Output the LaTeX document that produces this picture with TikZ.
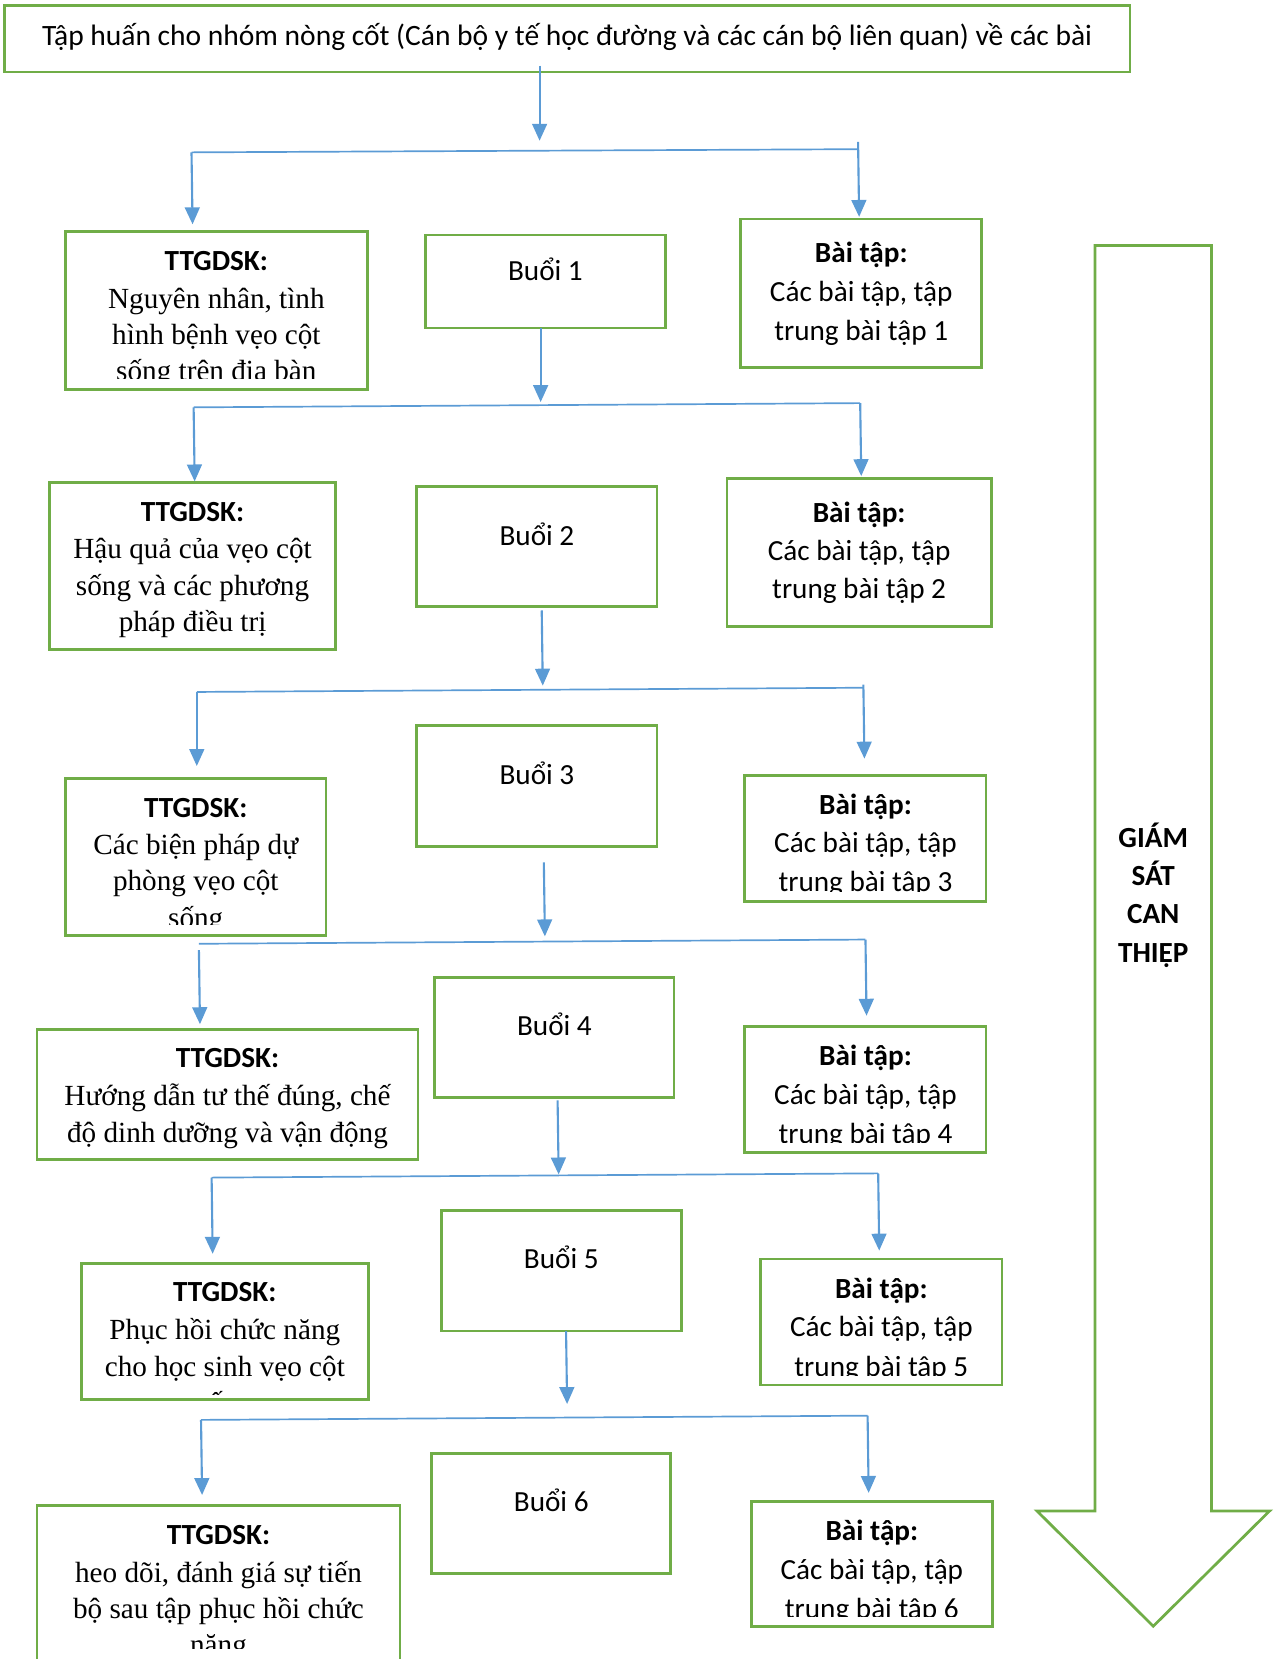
\documentclass[tikz,border=0pt]{standalone}
\usepackage{fontspec}
\setmainfont{Liberation Serif}
\newfontfamily\calfont{Carlito}
\usetikzlibrary{arrows.meta}
\definecolor{grn}{HTML}{70AD47}
\definecolor{blu}{HTML}{5B9BD5}
\tikzset{
  x=0.5pt, y=-0.5pt,
  box/.style={draw=grn, line width=1.3pt, rectangle, inner sep=0pt, outer sep=0pt},
  conn/.style={draw=blu, line width=0.8pt},
  arr/.style={draw=blu, line width=1pt, -{Triangle[length=8pt,width=7pt]}},
  cal/.style={font=\calfont\fontsize{13.8}{17}\selectfont, anchor=base, inner sep=0pt},
  calb/.style={font=\calfont\bfseries\fontsize{13.8}{17}\selectfont, anchor=base, inner sep=0pt},
  tim/.style={font=\fontsize{13.8}{17}\selectfont, anchor=base, inner sep=0pt},
}
\newcommand\bx[5]{\node[box, minimum width={(#4-#2)*0.5pt}, minimum height={(#5-#3)*0.5pt}] (#1) at ({(#2+#4)/2},{(#3+#5)/2}) {};}
\begin{document}
\begin{tikzpicture}
\useasboundingbox (0,0) rectangle (1213,1568);
% top
\bx{top}{4}{5}{1068}{68}
\node[cal, font=\calfont\fontsize{13.95}{17}\selectfont] (ttop) at (536,43) {Tập huấn cho nhóm nòng cốt (Cán bộ y tế học đường và các cán bộ liên quan) về các bài};

% ---------- row 1
\bx{tt1}{62}{219}{347}{368}
\bx{b1}{402}{222}{629}{310}
\bx{bt1}{700}{207}{928}{347}
\begin{scope}
\clip (62,219) rectangle (347,358);
\node[calb] (tt1a) at (204.5,256) {TTGDSK:};
\node[tim] (tt1b) at (204.5,292) {Nguyên nhân, tình};
\node[tim] (tt1c) at (204.5,326) {hình bệnh vẹo cột};
\node[tim] (tt1d) at (204.5,360) {sống trên địa bàn};
\end{scope}
\node[cal] (b1t) at (515.5,265) {Buổi 1};
\node[calb] (bt1a) at (814,248) {Bài tập:};
\node[cal] (bt1b) at (814,285) {Các bài tập, tập};
\node[cal] (bt1c) at (814,322) {trung bài tập 1};

% ---------- row 2
\bx{tt2}{47}{456}{317}{614}
\bx{b2}{394}{460}{621}{573}
\bx{bt2}{687}{452}{937}{592}
\node[calb] (tt2a) at (182,493) {TTGDSK:};
\node[tim] (tt2b) at (182,528) {Hậu quả của vẹo cột};
\node[tim] (tt2c) at (182,563) {sống và các phương};
\node[tim] (tt2d) at (182,597) {pháp điều trị};
\node[cal] (b2t) at (507.5,516) {Buổi 2};
\node[calb] (bt2a) at (812,494) {Bài tập:};
\node[cal] (bt2b) at (812,530) {Các bài tập, tập};
\node[cal] (bt2c) at (812,566) {trung bài tập 2};

% ---------- row 3
\bx{tt3}{62}{736}{308}{884}
\bx{b3}{394}{686}{621}{800}
\bx{bt3}{704}{733}{932}{852}
\begin{scope}
\clip (62,736) rectangle (308,874);
\node[calb] (tt3a) at (185,773) {TTGDSK:};
\node[tim] (tt3b) at (185,808) {Các biện pháp dự};
\node[tim] (tt3c) at (185,842) {phòng vẹo cột};
\node[tim] (tt3d) at (185,877) {sống};
\end{scope}
\node[cal] (b3t) at (507.5,741) {Buổi 3};
\begin{scope}
\clip (704,733) rectangle (932,843);
\node[calb] (bt3a) at (818,770) {Bài tập:};
\node[cal] (bt3b) at (818,806) {Các bài tập, tập};
\node[cal] (bt3c) at (818,843) {trung bài tập 3};
\end{scope}

% ---------- row 4
\bx{tt4}{35}{973}{395}{1096}
\bx{b4}{411}{924}{637}{1037}
\bx{bt4}{704}{970}{932}{1089}
\node[calb] (tt4a) at (215,1009) {TTGDSK:};
\node[tim] (tt4b) at (215,1045) {Hướng dẫn tư thế đúng, chế};
\node[tim] (tt4c) at (215,1080) {độ dinh dưỡng và vận động};
\node[cal] (b4t) at (524,979) {Buổi 4};
\begin{scope}
\clip (704,970) rectangle (932,1080);
\node[calb] (bt4a) at (818,1007) {Bài tập:};
\node[cal] (bt4b) at (818,1044) {Các bài tập, tập};
\node[cal] (bt4c) at (818,1081) {trung bài tập 4};
\end{scope}

% ---------- row 5
\bx{tt5}{77}{1194}{348}{1323}
\bx{b5}{417}{1144}{644}{1258}
\bx{bt5}{719}{1190}{947}{1309}
\begin{scope}
\clip (77,1194) rectangle (348,1318);
\node[calb] (tt5a) at (212.5,1230) {TTGDSK:};
\node[tim] (tt5b) at (212.5,1266) {Phục hồi chức năng};
\node[tim] (tt5c) at (212.5,1301) {cho học sinh vẹo cột};
\node[tim] (tt5d) at (212.5,1335) {sống};
\end{scope}
\node[cal] (b5t) at (530.5,1199) {Buổi 5};
\begin{scope}
\clip (719,1190) rectangle (947,1300);
\node[calb] (bt5a) at (833,1227) {Bài tập:};
\node[cal] (bt5b) at (833,1263) {Các bài tập, tập};
\node[cal] (bt5c) at (833,1301) {trung bài tập 5};
\end{scope}

% ---------- row 6
\bx{tt6}{35}{1423}{378}{1600}
\bx{b6}{408}{1374}{634}{1487}
\bx{bt6}{710}{1419}{938}{1537}
\begin{scope}
\clip (35,1423) rectangle (378,1558);
\node[calb] (tt6a) at (206.5,1460) {TTGDSK:};
\node[tim] (tt6b) at (206.5,1496) {heo dõi, đánh giá sự tiến};
\node[tim] (tt6c) at (206.5,1530) {bộ sau tập phục hồi chức};
\node[tim] (tt6d) at (206.5,1564) {năng};
\end{scope}
\node[cal] (b6t) at (521,1429) {Buổi 6};
\begin{scope}
\clip (710,1419) rectangle (938,1528);
\node[calb] (bt6a) at (824,1456) {Bài tập:};
\node[cal] (bt6b) at (824,1493) {Các bài tập, tập};
\node[cal] (bt6c) at (824,1530) {trung bài tập 6};
\end{scope}

% ---------- connectors
% level 1
\coordinate (d1s) at (510,62);  \coordinate (d1e) at (510,133);
\coordinate (h1l) at (181,144); \coordinate (h1r) at (811,141);
\coordinate (l1e) at (182,212); \coordinate (r1s) at (811,134); \coordinate (r1e) at (812,205);
\draw[arr] (d1s) -- (d1e);
\draw[conn] (h1l) -- (h1r);
\draw[arr] (h1l) -- (l1e);
\draw[arr] (r1s) -- (r1e);
% level 2
\coordinate (d2s) at (511,310); \coordinate (d2e) at (511,380);
\coordinate (h2l) at (183,385); \coordinate (h2r) at (813,381);
\coordinate (l2e) at (184,455); \coordinate (r2e) at (814,450);
\draw[arr] (d2s) -- (d2e);
\draw[conn] (h2l) -- (h2r);
\draw[arr] (h2l) -- (l2e);
\draw[arr] (h2r) -- (r2e);
% level 3
\coordinate (d3s) at (512,577); \coordinate (d3e) at (513,648);
\coordinate (h3l) at (186,654); \coordinate (h3r) at (816,650);
\coordinate (l3e) at (186,724); \coordinate (r3s) at (816,647); \coordinate (r3e) at (817,717);
\draw[arr] (d3s) -- (d3e);
\draw[conn] (h3l) -- (h3r);
\draw[arr] (h3l) -- (l3e);
\draw[arr] (r3s) -- (r3e);
% level 4
\coordinate (d4s) at (514,815); \coordinate (d4e) at (515,885);
\coordinate (h4l) at (188,892); \coordinate (h4r) at (818,888);
\coordinate (l4s) at (188,898); \coordinate (l4e) at (189,968); \coordinate (r4e) at (819,960);
\draw[arr] (d4s) -- (d4e);
\draw[conn] (h4l) -- (h4r);
\draw[arr] (l4s) -- (l4e);
\draw[arr] (h4r) -- (r4e);
% level 5
\coordinate (d5s) at (527,1040); \coordinate (d5e) at (528,1110);
\coordinate (h5l) at (200,1113); \coordinate (h5r) at (830,1109);
\coordinate (l5e) at (201,1185); \coordinate (r5e) at (831,1182);
\draw[arr] (d5s) -- (d5e);
\draw[conn] (h5l) -- (h5r);
\draw[arr] (h5l) -- (l5e);
\draw[arr] (h5r) -- (r5e);
% level 6
\coordinate (d6s) at (535,1258); \coordinate (d6e) at (536,1327);
\coordinate (h6l) at (190,1342); \coordinate (h6r) at (820,1338);
\coordinate (l6e) at (191,1413); \coordinate (r6e) at (821,1411);
\draw[arr] (d6s) -- (d6e);
\draw[conn] (h6l) -- (h6r);
\draw[arr] (h6l) -- (l6e);
\draw[arr] (h6r) -- (r6e);

% ---------- big arrow
\draw[draw=grn, line width=1.3pt, line join=miter]
  (1035,232) -- (1145,232) -- (1145,1428) -- (1200,1428) -- (1090,1537)
  -- (980,1428) -- (1035,1428) -- cycle;
\node[calb] (g1) at (1090,801) {GIÁM};
\node[calb] (g2) at (1090,837) {SÁT};
\node[calb] (g3) at (1090,873) {CAN};
\node[calb] (g4) at (1090,910) {THIỆP};
\end{tikzpicture}
\end{document}
